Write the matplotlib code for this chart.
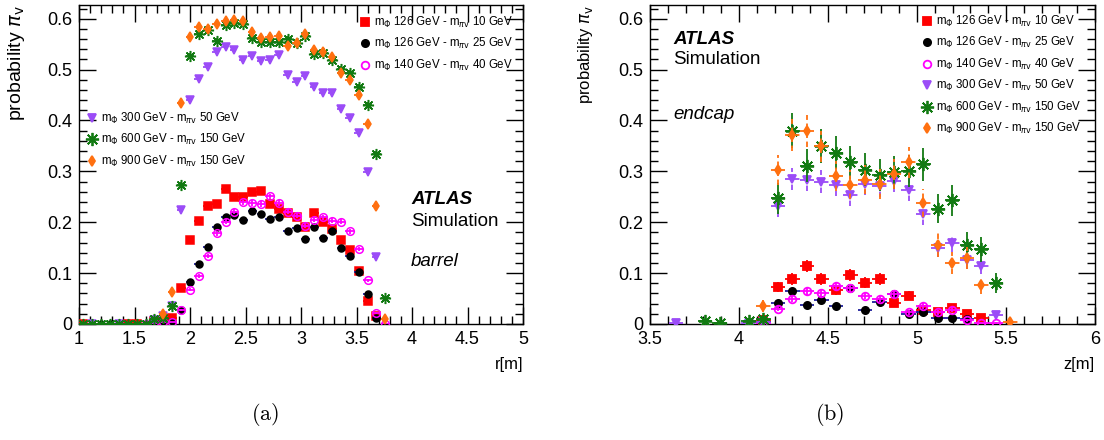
"""Vertex reconstruction probability vs decay position, barrel (a) and endcap (b)."""

import matplotlib

matplotlib.use("Agg")
import matplotlib.pyplot as plt  # noqa: E402
import numpy as np  # noqa: E402
from matplotlib.lines import Line2D  # noqa: E402
from matplotlib.ticker import AutoMinorLocator, FuncFormatter, MultipleLocator  # noqa: E402

plt.rcParams["font.family"] = ["Liberation Sans", "DejaVu Sans"]

nan = np.nan

# ---- data -----------------------------------------------------------------
labels = [
    r"m$_{\Phi}$ 126 GeV - m$_{\pi\mathrm{v}}$ 10 GeV",
    r"m$_{\Phi}$ 126 GeV - m$_{\pi\mathrm{v}}$ 25 GeV",
    r"m$_{\Phi}$ 140 GeV - m$_{\pi\mathrm{v}}$ 40 GeV",
    r"m$_{\Phi}$ 300 GeV - m$_{\pi\mathrm{v}}$ 50 GeV",
    r"m$_{\Phi}$ 600 GeV - m$_{\pi\mathrm{v}}$ 150 GeV",
    r"m$_{\Phi}$ 900 GeV - m$_{\pi\mathrm{v}}$ 150 GeV",
]

# barrel: bin centres in r [m], bin width 0.08
r_centers = np.round(1.04 + 0.08 * np.arange(35), 2)
r_halfwidth = 0.04

barrel_126_10 = [0, nan, nan, nan, nan, 0, 0, nan, 0.005, 0.006, 0.011, 0.071,
                 0.165, 0.202, 0.231, 0.236, 0.265, 0.249, 0.249, 0.259, 0.261,
                 0.236, 0.226, 0.219, 0.211, 0.190, 0.218, 0.201, 0.187, 0.165,
                 0.145, 0.104, 0.045, 0.015, nan]
barrel_126_25 = [nan, nan, 0, 0, nan, nan, nan, 0, 0.003, 0.003, 0.004, 0.028,
                 0.083, 0.117, 0.151, 0.190, 0.210, 0.215, 0.205, 0.223, 0.216,
                 0.206, 0.211, 0.183, 0.188, 0.167, 0.190, 0.170, 0.183, 0.150,
                 0.134, 0.103, 0.059, 0.011, nan]
barrel_140_40 = [nan, nan, nan, nan, 0, nan, nan, 0, 0.002, 0.003, 0.004, 0.027,
                 0.067, 0.094, 0.133, 0.178, 0.201, 0.221, 0.239, 0.238, 0.236,
                 0.251, 0.238, 0.221, 0.213, 0.193, 0.205, 0.210, 0.203, 0.201,
                 0.182, 0.147, 0.086, 0.021, 0]
barrel_300_50 = [nan, 0, nan, nan, 0, nan, nan, nan, 0.008, 0.016, 0.035, 0.225,
                 0.440, 0.481, 0.506, 0.535, 0.545, 0.539, 0.518, 0.527, 0.516,
                 0.518, 0.528, 0.489, 0.476, 0.488, 0.466, 0.454, 0.454, 0.422,
                 0.404, 0.375, 0.298, 0.132, nan]
barrel_600_150 = [0, 0, 0, 0, 0, 0, 0, 0, 0.010, 0.012, 0.035, 0.273,
                  0.527, 0.570, 0.577, 0.557, 0.588, 0.591, 0.589, 0.563, 0.555,
                  0.555, 0.555, 0.560, 0.552, 0.567, 0.531, 0.533, 0.518, 0.501,
                  0.494, 0.465, 0.430, 0.334, 0.052]
barrel_900_150 = [nan, nan, nan, nan, nan, nan, nan, nan, nan, 0.020, 0.062, 0.434,
                  0.565, 0.584, 0.580, 0.589, 0.595, 0.598, 0.595, 0.573, 0.562,
                  0.565, 0.567, 0.547, 0.552, 0.570, 0.539, 0.535, 0.524, 0.493,
                  0.479, 0.450, 0.394, 0.231, 0.010]

# endcap: bin centres in z [m]
z_centers = np.round(3.646 + 0.0817 * np.arange(24), 3)
z_halfwidth = 0.041

endcap_126_10 = [nan, nan, nan, nan, nan, nan, 0.007, 0.073, 0.088, 0.114, 0.088,
                 0.066, 0.096, 0.081, 0.089, 0.041, 0.056, 0.028, 0.023, 0.032,
                 0.020, 0.012, nan, nan]
endcap_126_25 = [nan, nan, nan, nan, nan, nan, 0.004, 0.041, 0.064, 0.037, 0.047,
                 0.035, 0.070, 0.028, 0.043, 0.058, 0.020, 0.024, 0.011, 0.011,
                 0.009, nan, nan, nan]
endcap_140_40 = [nan, nan, nan, nan, nan, nan, 0.002, 0.030, 0.050, 0.064, 0.060,
                 0.074, 0.070, 0.055, 0.049, 0.058, 0.023, 0.036, 0.023, 0.028,
                 0.007, 0.002, 0.002, nan]
endcap_300_50 = [0.002, nan, nan, nan, nan, 0.002, 0.003, 0.232, 0.285, 0.284, 0.280,
                 0.274, 0.253, 0.275, 0.272, 0.282, 0.263, 0.216, 0.150, 0.159,
                 0.125, 0.114, 0.018, nan]
endcap_600_150 = [nan, nan, 0.005, 0.002, nan, 0.006, 0.010, 0.247, 0.380, 0.311, 0.350,
                  0.337, 0.318, 0.303, 0.293, 0.298, 0.301, 0.314, 0.227, 0.243,
                  0.155, 0.147, 0.081, nan]
endcap_900_150 = [nan, nan, nan, nan, nan, nan, 0.035, 0.303, 0.372, 0.379, 0.349,
                  0.291, 0.274, 0.284, 0.275, 0.295, 0.318, 0.237, 0.155, 0.120,
                  0.130, 0.076, nan, 0.003]

# ---- styles ---------------------------------------------------------------
colors = ["#ff0000", "#000000", "#ff00ff", "#9b4cf7", "#127a12", "#ff7010"]
ecolors = ["#ff0000", "#1f1f9a", "#ff00ff", "#9b4cf7", "#127a12", "#ff7010"]
markers = ["s", "o", "o", "v", (8, 2, 0), "d"]
filled = [True, True, False, True, True, True]
msize_l = [5.5, 5.0, 5.5, 5.5, 8.0, 5.0]
msize_r = [6.0, 5.2, 5.5, 6.0, 9.5, 4.8]
dashed = [False, False, False, True, False, True]
# relative stat. error scale (binomial-like) for the endcap panel
err_scale = [0.04, 0.025, 0.03, 0.05, 0.07, 0.065]

barrel = [barrel_126_10, barrel_126_25, barrel_140_40,
          barrel_300_50, barrel_600_150, barrel_900_150]
endcap = [endcap_126_10, endcap_126_25, endcap_140_40,
          endcap_300_50, endcap_600_150, endcap_900_150]

fig = plt.figure(figsize=(11.04, 4.4), dpi=100)
ax1 = fig.add_axes([79 / 1104, 1 - 324 / 440, 444 / 1104, 319 / 440])
ax2 = fig.add_axes([650 / 1104, 1 - 324 / 440, 445 / 1104, 319 / 440])


def draw(ax, x, series, halfw, sizes, yerr_scale, mew):
    for i, vals in enumerate(series):
        y = np.asarray(vals, dtype=float)
        p = np.clip(y, 0, 1)
        yerr = yerr_scale[i] * np.sqrt(p * (1 - p))
        eb = ax.errorbar(
            x, y, xerr=halfw, yerr=yerr, fmt="none",
            ecolor=ecolors[i], elinewidth=1.3, capsize=0, zorder=2 + i,
        )
        if dashed[i]:
            for lc in eb[2]:
                lc.set_linestyle((0, (3, 2)))
        ax.plot(
            x, y, ls="none", marker=markers[i], ms=sizes[i],
            mfc=colors[i] if filled[i] else "none", mec=colors[i],
            mew=mew, zorder=3 + i,
        )


draw(ax1, r_centers, barrel, r_halfwidth, msize_l, [0.012] * 6, 1.1)
draw(ax2, z_centers, endcap, z_halfwidth, msize_r, err_scale, 1.3)

yfmt = FuncFormatter(lambda v, _: "0" if abs(v) < 1e-9 else f"{v:g}")
for ax in (ax1, ax2):
    ax.set_ylim(0, 0.627)
    ax.yaxis.set_major_locator(MultipleLocator(0.1))
    ax.xaxis.set_major_locator(MultipleLocator(0.5))
    ax.xaxis.set_minor_locator(AutoMinorLocator(5))
    ax.yaxis.set_minor_locator(AutoMinorLocator(5))
    ax.xaxis.set_major_formatter(FuncFormatter(lambda v, _: f"{v:g}"))
    ax.yaxis.set_major_formatter(yfmt)
    ax.tick_params(which="both", direction="in", top=True, right=True,
                   width=1.0, labelsize=13)
    ax.tick_params(which="major", length=12, pad=5)
    ax.tick_params(which="minor", length=6)
    for s in ax.spines.values():
        s.set_linewidth(1.0)

ax1.set_xlim(1, 5)
ax2.set_xlim(3.5, 6)

ax1.set_xlabel("r[m]", loc="right", fontsize=12)
ax2.set_xlabel("z[m]", loc="right", fontsize=12)
ax1.xaxis.set_label_coords(1.0, -0.105)
ax2.xaxis.set_label_coords(1.0, -0.105)
ax1.set_ylabel(r"probability $\pi_{\mathrm{v}}$", loc="top", fontsize=14)
ax2.set_ylabel(r"probability $\pi_{\mathrm{v}}$", loc="top", fontsize=12)
ax1.yaxis.set_label_coords(-0.118, 1.0)
ax2.yaxis.set_label_coords(-0.124, 1.0)


def handle(i):
    return Line2D([], [], ls="none", marker=markers[i], ms=msize_r[i],
                  mfc=colors[i] if filled[i] else "none", mec=colors[i], mew=1.3)


leg_kw = dict(frameon=False, fontsize=8.3, handlelength=0.8, handletextpad=0.4,
              labelspacing=0.55, borderpad=0, borderaxespad=0, loc="upper left")
leg1 = ax1.legend([handle(i) for i in range(3)], labels[:3],
                  bbox_to_anchor=(0.633, 0.969), **leg_kw)
ax1.add_artist(leg1)
ax1.legend([handle(i) for i in range(3, 6)], labels[3:],
           bbox_to_anchor=(0.018, 0.668), **leg_kw)
ax2.legend([handle(i) for i in range(6)], labels,
           bbox_to_anchor=(0.611, 0.972), **leg_kw)

ax1.text(0.748, 0.389, "ATLAS", transform=ax1.transAxes, fontsize=13.5,
         fontweight="bold", fontstyle="italic", va="center")
ax1.text(0.748, 0.321, "Simulation", transform=ax1.transAxes, fontsize=13.5, va="center")
ax1.text(0.748, 0.197, "barrel", transform=ax1.transAxes, fontsize=13.5,
         fontstyle="italic", va="center")
ax2.text(0.052, 0.893, "ATLAS", transform=ax2.transAxes, fontsize=13.5,
         fontweight="bold", fontstyle="italic", va="center")
ax2.text(0.052, 0.830, "Simulation", transform=ax2.transAxes, fontsize=13.5, va="center")
ax2.text(0.052, 0.658, "endcap", transform=ax2.transAxes, fontsize=13.5,
         fontstyle="italic", va="center")

fig.text(265 / 1104, 1 - 414 / 440, r"$(\mathrm{a})$", fontsize=16,
         math_fontfamily="cm", ha="center", va="center")
fig.text(830 / 1104, 1 - 414 / 440, r"$(\mathrm{b})$", fontsize=16,
         math_fontfamily="cm", ha="center", va="center")

fig.savefig("out.png", dpi=100)
plt.close(fig)
